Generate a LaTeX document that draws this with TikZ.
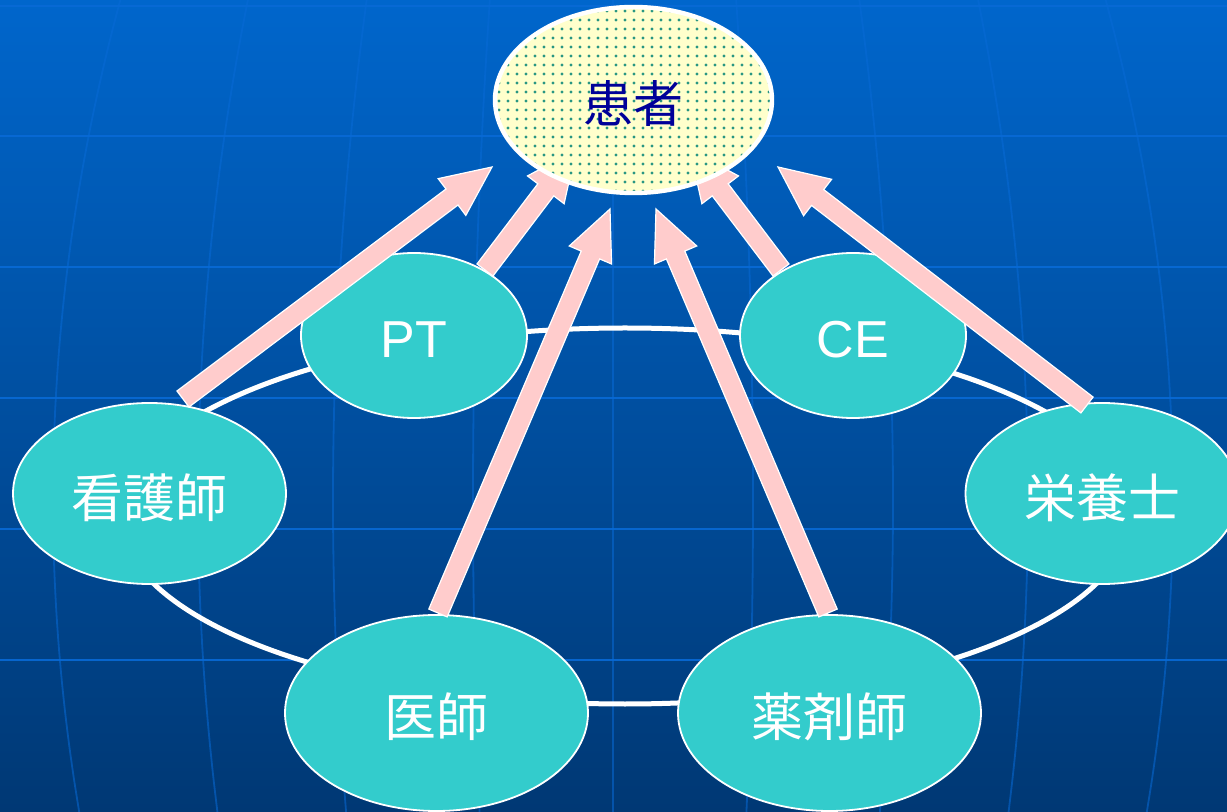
\documentclass[tikz,border=0pt]{standalone}
\usepackage{fontspec}
\setmainfont{Liberation Sans}
\newfontfamily\jpfont{Noto Sans CJK JP}
\usetikzlibrary{calc,shapes.geometric}
\definecolor{bgtop}{RGB}{0,102,204}
\definecolor{bgmid}{RGB}{0,82,168}
\definecolor{bgbot}{RGB}{0,56,116}
\definecolor{gridc}{RGB}{8,106,214}
\definecolor{tealfill}{RGB}{51,204,204}
\definecolor{pinkarr}{RGB}{255,204,204}
\definecolor{patfill}{RGB}{255,255,204}
\definecolor{dotc}{RGB}{40,150,130}
\definecolor{navytext}{RGB}{0,0,153}
\newcommand\lbl[1]{\raisebox{-2pt}[\height][\depth]{#1}}
\tikzset{
  gridh/.style={draw=gridc, line width=1.3pt, opacity=0.9},
  gridv/.style={draw=gridc, line width=0.9pt, opacity=0.55},
  ringsty/.style={ellipse, draw=white, line width=2.5pt, inner sep=0pt, fill=none},
  role/.style={ellipse, fill=tealfill, draw=white, line width=0.9pt, inner sep=0pt,
    text=white, font=\fontsize{26}{30}\selectfont},
  patient/.style={ellipse, draw=white, line width=2.2pt, inner sep=0pt,
    minimum width=138.5pt, minimum height=93pt, text=navytext,
    font=\fontsize{25}{30}\selectfont},
  blkarr/.style={fill=pinkarr, draw=white, line width=0.6pt, line join=miter},
}
\newcommand\blkarrow[2]{%
  \coordinate (#1h) at ($(#2)!25pt!(#1)$);
  \path[blkarr] ($(#1)!5pt!90:(#2)$) -- ($(#1h)!5pt!90:(#2)$) -- ($(#1h)!11.5pt!90:(#2)$)
    -- (#2) -- ($(#1h)!11.5pt!-90:(#2)$) -- ($(#1h)!5pt!-90:(#2)$) -- ($(#1)!5pt!-90:(#2)$) -- cycle;
}
\begin{document}
\begin{tikzpicture}[x=0.5pt,y=-0.5pt]
\clip (0,0) rectangle (1227,812);
\shade[top color=bgtop, middle color=bgmid, bottom color=bgbot] (0,0) rectangle (1227,812);
% grid
\foreach \yy in {6,136,267,398,529,660} \draw[gridh] (0,\yy) -- (1227,\yy);
\foreach \d in {-560,-415,-280,-140,0,140,280,415,560}
  \draw[gridv] plot[domain=0:812, samples=25, smooth, variable=\t]
    ({613+\d*(1-0.0048*((\t-500)/100)^2)}, \t);
% ring
\node[ringsty, minimum width=505pt, minimum height=188pt] (ring) at (625,516) {};
% roles
\node[role, minimum width=113pt, minimum height=82.5pt] (pt) at (414,335.5) {\lbl{PT}};
\node[role, minimum width=113pt, minimum height=82.5pt] (ce) at (853,335.5) {\lbl{CE}};
\node[role, minimum width=136.5pt, minimum height=90.5pt] (kango) at (149.5,493.5) {\lbl{\jpfont 看護師}};
\node[role, minimum width=136.5pt, minimum height=90.5pt] (eiyo) at (1102,493.5) {\lbl{\jpfont 栄養士}};
\node[role, minimum width=151.5pt, minimum height=98pt] (ishi) at (436.5,713) {\lbl{\jpfont 医師}};
\node[role, minimum width=151.5pt, minimum height=98pt] (yaku) at (829.5,713) {\lbl{\jpfont 薬剤師}};
% arrows
\coordinate (a1s) at (183,399);  \coordinate (a1e) at (492,167);
\coordinate (a2s) at (485,270);  \coordinate (a2e) at (576,150);
\coordinate (a3s) at (438,613);  \coordinate (a3e) at (610,209);
\coordinate (a4s) at (828,613);  \coordinate (a4e) at (656,209);
\coordinate (a5s) at (781,270);  \coordinate (a5e) at (690,150);
\coordinate (a6s) at (1087,405); \coordinate (a6e) at (778,167);
\blkarrow{a1s}{a1e}
\blkarrow{a2s}{a2e}
\blkarrow{a3s}{a3e}
\blkarrow{a4s}{a4e}
\blkarrow{a5s}{a5e}
\blkarrow{a6s}{a6e}
% patient
\fill[patfill] (633.5,100) ellipse [x radius=69.25pt, y radius=46.5pt];
\begin{scope}
  \clip (633.5,100) ellipse [x radius=69.25pt, y radius=46.5pt];
  \foreach \i in {0,...,30} {\foreach \j in {0,...,20} {\fill[dotc] ({499+9*\i},{11+9*\j}) circle [radius=0.8pt];}}
\end{scope}
\node[patient] (pat) at (633.5,100) {\lbl{\jpfont 患者}};
\end{tikzpicture}
\end{document}
